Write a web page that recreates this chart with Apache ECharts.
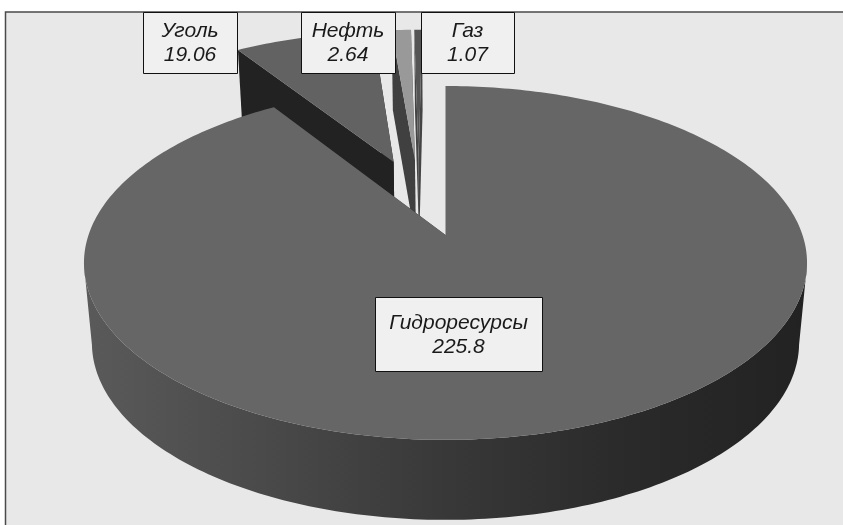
<!DOCTYPE html>
<html>
<head>
<meta charset="utf-8">
<style>
  html, body { margin: 0; padding: 0; background: #fff; }
  #chart { width: 843px; height: 525px; }
</style>
<script src="https://cdn.jsdelivr.net/npm/echarts@6/dist/echarts.min.js"></script>
</head>
<body>
<div id="chart"></div>
<script>
const categories = ['Гидроресурсы', 'Уголь', 'Нефть', 'Газ']
const values = [225.8, 19.06, 2.64, 1.07]

const topColors = ['#666666', '#626262', '#999999', '#555555']
const edgeColors = ['#333333', '#222222', '#404040', '#444444']

// perspective of the disc, fitted by eye on the hydro slice
const originX = 445.5
const originY = 235
const radiusX = 357
const radiusY = 172.5
const persp = 0.158
const depth = 80
const depthShrink = 0.022
const explode = 0.238
const smallSliceNudge = -0.01

const total = values.reduce((s, v) => s + v, 0)
const startAngles = []
values.reduce((acc, v, i) => {
  startAngles[i] = acc
  return acc + (v / total) * 360
}, 0)

const rad = (d) => (d * Math.PI) / 180

const project = (u, v, z) => {
  const w = 1 + persp * v
  const s = 1 - depthShrink * z
  return [originX + (radiusX * u * s) / w, originY - (radiusY * v) / w + depth * z]
}

// front wall goes dark from left to right
const wallFill = new echarts.graphic.LinearGradient(85, 0, 810, 0, [
  { offset: 0, color: '#5a5a5a' },
  { offset: 0.3, color: '#464646' },
  { offset: 0.5, color: '#383838' },
  { offset: 0.75, color: '#2a2a2a' },
  { offset: 1, color: '#222222' }
], true)

const renderSlice = (params, api) => {
  const i = params.dataIndex
  const value = api.value(0)
  const start = startAngles[i]
  const sweep = (value / total) * 360
  const mid = start + sweep / 2
  // the hydro slice sits at the origin, the whole pie is shifted against it
  const hydroMid = startAngles[0] + ((values[0] / total) * 360) / 2
  const ou = explode * (Math.sin(rad(mid)) - Math.sin(rad(hydroMid))) + (i === 0 ? 0 : smallSliceNudge)
  const ov = explode * (Math.cos(rad(mid)) - Math.cos(rad(hydroMid)))

  const base = (i === 0 ? 10 : i) * 10
  const children = []
  const poly = (points, fill, layer) => {
    children.push({
      type: 'polygon',
      z2: base + layer,
      shape: { points },
      style: { fill }
    })
  }

  const rim = []
  const steps = Math.max(2, Math.ceil(sweep / 1))
  for (let k = 0; k <= steps; k++) {
    const a = rad(start + (sweep * k) / steps)
    // silhouette of the disc sits at cos = -persp, not at the widest angle
    rim.push({ u: ou + Math.sin(a), v: ov + Math.cos(a), front: Math.cos(a) < -persp })
  }

  // cut faces
  const wall = (p) => [project(ou, ov, 0), project(p.u, p.v, 0), project(p.u, p.v, 1), project(ou, ov, 1)]
  poly(wall(rim[0]), edgeColors[i], 0)
  poly(wall(rim[steps]), edgeColors[i], 0)

  // outer wall, only the part facing us
  const front = rim.filter((p) => p.front)
  if (front.length > 1) {
    const upper = front.map((p) => project(p.u, p.v, 0))
    const lower = front.map((p) => project(p.u, p.v, 1)).reverse()
    poly(upper.concat(lower), wallFill, 1)
  }

  // top face
  poly([project(ou, ov, 0)].concat(rim.map((p) => project(p.u, p.v, 0))), topColors[i], 2)

  return { type: 'group', children }
}

const labelBoxes = [
  { x: 375, y: 297, w: 167, h: 74 },
  { x: 143, y: 12, w: 94, h: 61 },
  { x: 301, y: 12, w: 94, h: 61 },
  { x: 421, y: 12, w: 93, h: 61 }
]

const labelGraphics = labelBoxes.map((b, i) => ({
  type: 'group',
  children: [
    {
      type: 'rect',
      z: 10,
      shape: { x: b.x + 0.5, y: b.y + 0.5, width: b.w, height: b.h },
      style: { fill: '#f0f0f0', stroke: '#111', lineWidth: 1 }
    },
    {
      type: 'text',
      z: 11,
      x: b.x + b.w / 2,
      y: b.y + b.h / 2 + 1,
      style: {
        text: `${categories[i]}\n${values[i]}`,
        align: 'center',
        verticalAlign: 'middle',
        fontFamily: '"Liberation Sans"',
        fontStyle: 'italic',
        fontSize: 21,
        lineHeight: 24,
        fill: '#1a1a1a'
      }
    }
  ]
}))

const chart = echarts.init(document.getElementById('chart'))
chart.setOption({
  animation: false,
  backgroundColor: '#ffffff',
  graphic: [
    {
      type: 'rect',
      z: -2,
      shape: { x: 5, y: 12, width: 838, height: 513 },
      style: { fill: '#e8e8e8' }
    },
    {
      type: 'polyline',
      z: -1,
      shape: { points: [[5.5, 525], [5.5, 12], [843, 12]] },
      style: { fill: 'none', stroke: '#4a4a4a', lineWidth: 1.5 }
    },
    ...labelGraphics
  ],
  series: [
    {
      type: 'custom',
      coordinateSystem: 'none',
      silent: true,
      clip: false,
      renderItem: renderSlice,
      data: values.map((v, i) => ({ name: categories[i], value: [v] }))
    }
  ]
})
</script>
</body>
</html>
